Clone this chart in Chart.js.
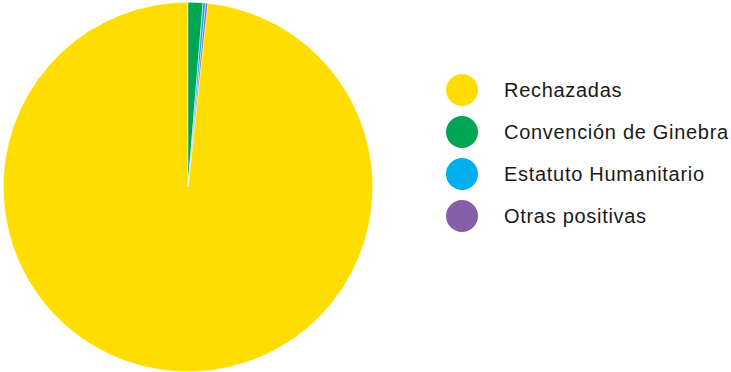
<!DOCTYPE html>
<html>
<head>
<meta charset="utf-8">
<script src="https://cdn.jsdelivr.net/npm/chart.js@4"></script>
<style>
  body { margin: 0; background: #fff; width: 731px; height: 372px; overflow: hidden; position: relative; }
  #pieWrap { position: absolute; left: 3px; top: 2px; width: 370px; height: 370px; }
  #legend { position: absolute; left: 446px; top: 69px; margin: 0; padding: 0; list-style: none;
            font-family: "Liberation Sans", Arial, sans-serif; font-size: 20px; color: #1a1a1a; letter-spacing: 0.7px; }
  #legend li { display: flex; align-items: center; height: 42px; }
  #legend .dot { width: 32px; height: 32px; border-radius: 50%; margin-right: 26px; }
</style>
</head>
<body>
<div id="pieWrap"><canvas id="pie"></canvas></div>
<ul id="legend"></ul>
<script>
// Resolution shares (%)
const categories = ['Rechazadas', 'Convención de Ginebra', 'Estatuto Humanitario', 'Otras positivas'];
const shares = [98.3, 1.3, 0.23, 0.17];
const colors = ['#FFDD00', '#00A651', '#00AEEF', '#8560A8'];

document.addEventListener('DOMContentLoaded', function() {
  // small slices sit just right of 12 o'clock, so start the big one after them
  const total = shares.reduce((a, b) => a + b, 0);
  const rest = shares.slice(1).reduce((a, b) => a + b, 0);
  const rotation = rest / total * 360;

  new Chart(document.getElementById('pie'), {
    type: 'pie',
    data: {
      labels: categories,
      datasets: [{
        data: shares,
        backgroundColor: colors,
        borderColor: '#ffffff',
        borderWidth: 0.5
      }]
    },
    options: {
      responsive: true,
      maintainAspectRatio: false,
      animation: false,
      rotation: rotation,
      layout: { padding: 0 },
      plugins: {
        legend: { display: false },
        tooltip: { enabled: false }
      }
    }
  });

  const legend = document.getElementById('legend');
  categories.forEach((name, i) => {
    const li = document.createElement('li');
    li.innerHTML = `<span class="dot" style="background:${colors[i]}"></span><span>${name}</span>`;
    legend.appendChild(li);
  });
});
</script>
</body>
</html>
